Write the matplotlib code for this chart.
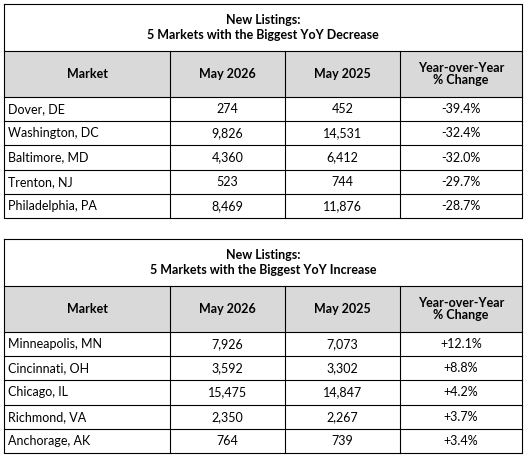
import matplotlib.pyplot as plt

plt.rcParams['font.family'] = ['Lato', 'DejaVu Sans']

header = ["Market", "May 2026", "May 2025", "Year-over-Year\n% Change"]

dec_title = "New Listings:\n5 Markets with the Biggest YoY Decrease"
dec_markets = ["Dover, DE", "Washington, DC", "Baltimore, MD", "Trenton, NJ", "Philadelphia, PA"]
dec_2026 = ["274", "9,826", "4,360", "523", "8,469"]
dec_2025 = ["452", "14,531", "6,412", "744", "11,876"]
dec_pct = ["-39.4%", "-32.4%", "-32.0%", "-29.7%", "-28.7%"]

inc_title = "New Listings:\n5 Markets with the Biggest YoY Increase"
inc_markets = ["Minneapolis, MN", "Cincinnati, OH", "Chicago, IL", "Richmond, VA", "Anchorage, AK"]
inc_2026 = ["7,926", "3,592", "15,475", "2,350", "764"]
inc_2025 = ["7,073", "3,302", "14,847", "2,267", "739"]
inc_pct = ["+12.1%", "+8.8%", "+4.2%", "+3.7%", "+3.4%"]

fig = plt.figure(figsize=(5.28, 4.62), dpi=100)
ax = fig.add_axes([0, 0, 1, 1])
ax.set_xlim(0, 528)
ax.set_ylim(462, 0)
ax.axis('off')

cols = [4, 170, 285, 400, 522]
fs = 9


def draw_table(top, title, markets, v26, v25, pct):
    title_h, head_h, row_h = 47, 46, 24.2
    bottom = top + title_h + head_h + 5 * row_h
    ax.add_patch(plt.Rectangle((cols[0], top + title_h), cols[-1] - cols[0], head_h,
                               facecolor='#d9d9d9', edgecolor='none'))
    ax.text((cols[0] + cols[-1]) / 2, top + title_h / 2, title, ha='center', va='center',
            fontsize=fs, fontweight='bold', linespacing=1.35)
    # outer border and horizontal lines
    ax.plot([cols[0], cols[-1], cols[-1], cols[0], cols[0]], [top, top, bottom, bottom, top],
            color='black', lw=0.8)
    ys = [top + title_h, top + title_h + head_h] + [top + title_h + head_h + i * row_h for i in range(1, 5)]
    for y in ys:
        ax.plot([cols[0], cols[-1]], [y, y], color='black', lw=0.8)
    for x in cols[1:-1]:
        ax.plot([x, x], [top + title_h, bottom], color='black', lw=0.8)
    hy = top + title_h + head_h / 2
    for i, h in enumerate(header):
        ax.text((cols[i] + cols[i + 1]) / 2, hy, h, ha='center', va='center',
                fontsize=fs, fontweight='bold', linespacing=1.05)
    for r in range(5):
        y = top + title_h + head_h + (r + 0.5) * row_h
        ax.text(cols[0] + 4, y, markets[r], ha='left', va='center', fontsize=fs)
        for i, v in enumerate([v26[r], v25[r], pct[r]]):
            ax.text((cols[i + 1] + cols[i + 2]) / 2, y, v, ha='center', va='center', fontsize=fs)


draw_table(4, dec_title, dec_markets, dec_2026, dec_2025, dec_pct)
draw_table(239, inc_title, inc_markets, inc_2026, inc_2025, inc_pct)

fig.savefig('out.png', dpi=100)
